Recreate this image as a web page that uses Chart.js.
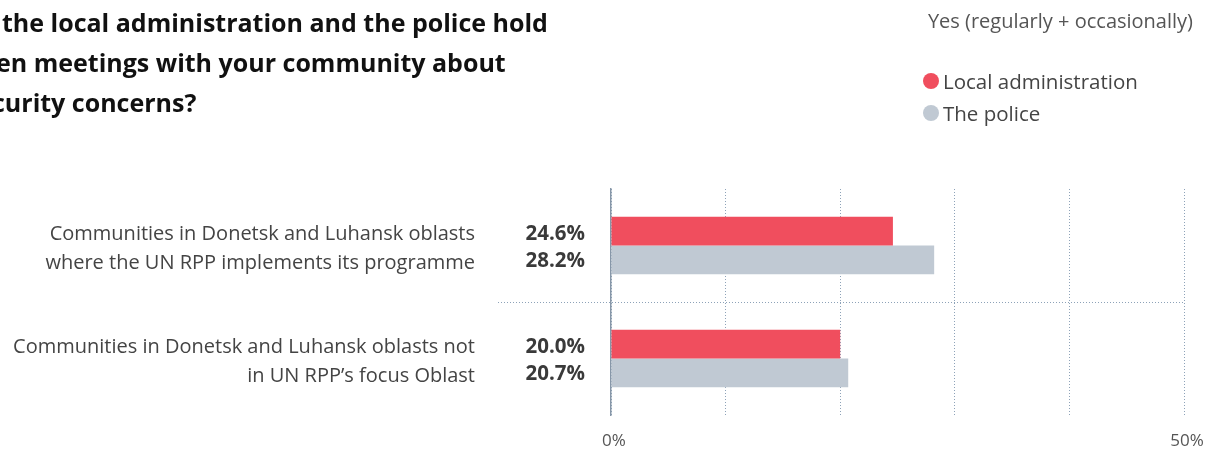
<!DOCTYPE html>
<html>
<head>
<meta charset="utf-8">
<script src="https://cdn.jsdelivr.net/npm/chart.js@4"></script>
<style>
  html, body { margin:0; padding:0; background:#fff; width:1205px; height:450px; overflow:hidden; font-family: "Open Sans", "Noto Sans", sans-serif; }
  #wrap { position:absolute; left:0; top:0; width:1205px; height:450px; }
  .tl { position:absolute; font-weight:700; font-size:25px; line-height:40px; color:#111; white-space:nowrap; }
  #sub { position:absolute; top:7px; right:12px; font-size:20px; color:#555; white-space:nowrap; }
  #legend { position:absolute; top:65px; left:923px; font-size:20.5px; color:#444; line-height:32px; }
  .li { display:flex; align-items:center; white-space:nowrap; }
  .dot { width:16px; height:16px; border-radius:50%; margin-right:4px; }
</style>
</head>
<body>
<div id="wrap"><canvas id="c"></canvas></div>
<div id="t1" class="tl" style="top:2px"><span class="cut">Do </span>the local administration and the police hold</div>
<div id="t2" class="tl" style="top:42px"><span class="cut">oft</span>en meetings with your community about</div>
<div id="t3" class="tl" style="top:82px"><span class="cut">se</span>curity concerns?</div>
<div id="sub">Yes (regularly + occasionally)</div>
<div id="legend"></div>
<script>
const categories = [
  ["Communities in Donetsk and Luhansk oblasts", "where the UN RPP implements its programme"],
  ["Communities in Donetsk and Luhansk oblasts not", "in UN RPP\u2019s focus Oblast"]
];
const seriesNames = ["Local administration", "The police"];
const localAdmin = [24.6, 20.0];
const police = [28.2, 20.7];
const seriesColors = ["#f04e5e", "#c0c9d3"];
const xTickLabels = {0: "0%", 50: "50%"};

const FONT = '"Open Sans", "Noto Sans", sans-serif';

// title lines are cropped at the left edge in the original; place the visible part
[["t1", 2], ["t2", -4], ["t3", -8]].forEach(([id, vis]) => {
  const el = document.getElementById(id);
  const w = el.querySelector('.cut').getBoundingClientRect().width;
  el.style.left = (vis - w) + 'px';
});

const leg = document.getElementById('legend');
seriesNames.forEach((n, i) => {
  const d = document.createElement('div'); d.className = 'li';
  d.innerHTML = '<span class="dot" style="background:' + seriesColors[i] + '"></span><span>' + n + '</span>';
  leg.appendChild(d);
});

const valueLabels = {
  id: 'valueLabels',
  afterDatasetsDraw(chart) {
    const ctx = chart.ctx;
    const ys = chart.scales.y;
    const n = chart.data.datasets.length;
    ctx.save();
    ctx.font = '700 20.5px ' + FONT;
    ctx.fillStyle = '#3a3a3a';
    ctx.textAlign = 'right';
    ctx.textBaseline = 'middle';
    chart.data.datasets.forEach((ds, di) => {
      ds.data.forEach((v, i) => {
        const cy = ys.getPixelForValue(i) + 2 + (di - (n - 1) / 2) * 27;
        ctx.fillText(v.toFixed(1) + '%', chart.chartArea.left - 26, cy);
      });
    });
    ctx.restore();
  }
};

const divider = {
  id: 'divider',
  beforeDatasetsDraw(chart) {
    const y = chart.scales.y;
    const ctx = chart.ctx;
    ctx.save();
    ctx.strokeStyle = '#8da2b8';
    ctx.lineWidth = 1;
    ctx.setLineDash([1, 2]);
    for (let i = 0; i < categories.length - 1; i++) {
      const yy = Math.round((y.getPixelForValue(i) + y.getPixelForValue(i + 1)) / 2) + 0.5;
      ctx.beginPath();
      ctx.moveTo(498, yy);
      ctx.lineTo(chart.chartArea.right + 1, yy);
      ctx.stroke();
    }
    ctx.restore();
  }
};

new Chart(document.getElementById('c'), {
  type: 'bar',
  data: {
    labels: categories,
    datasets: [
      { label: seriesNames[0], data: localAdmin, backgroundColor: seriesColors[0] },
      { label: seriesNames[1], data: police, backgroundColor: seriesColors[1] }
    ]
  },
  options: {
    indexAxis: 'y',
    responsive: true,
    maintainAspectRatio: false,
    animation: false,
    events: [],
    layout: { padding: { top: 189, right: 21, left: 0, bottom: 0 } },
    datasets: { bar: { barPercentage: 1, categoryPercentage: 0.51 } },
    plugins: { legend: { display: false }, tooltip: { enabled: false } },
    scales: {
      x: {
        min: 0, max: 50,
        afterFit: (s) => { s.height = 35; s.paddingLeft = 0; s.paddingRight = 0; },
        ticks: {
          stepSize: 10,
          autoSkip: false,
          maxRotation: 0,
          padding: 16,
          labelOffset: 3,
          color: '#555',
          font: { family: FONT, size: 17 },
          callback: (v) => xTickLabels[v] !== undefined ? xTickLabels[v] : ''
        },
        grid: { color: '#8da2b8', lineWidth: 1, drawTicks: false },
        border: { display: false, dash: [1, 2] }
      },
      y: {
        afterFit: (s) => { s.width = 611; s.paddingTop = 0; s.paddingBottom = 0; },
        ticks: {
          padding: 136,
          labelOffset: 3,
          color: '#444',
          font: { family: FONT, size: 20, lineHeight: 1.45 }
        },
        grid: { display: false, drawTicks: false },
        border: { display: true, color: '#8797a8', width: 1.5 }
      }
    }
  },
  plugins: [valueLabels, divider]
});
</script>
</body>
</html>
